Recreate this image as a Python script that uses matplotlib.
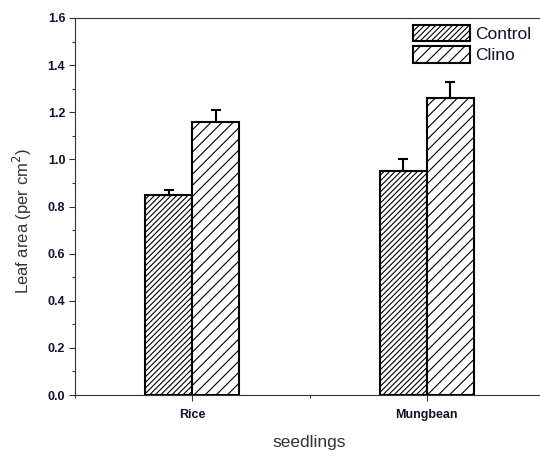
import numpy as np
import matplotlib
matplotlib.use("Agg")
import matplotlib.pyplot as plt
from matplotlib.ticker import MultipleLocator

# Data
categories = ["Rice", "Mungbean"]
control = [0.85, 0.95]
control_err = [0.02, 0.05]
clino = [1.16, 1.26]
clino_err = [0.05, 0.07]

plt.rcParams['font.family'] = ['Liberation Sans', 'DejaVu Sans']
plt.rcParams['hatch.linewidth'] = 0.8
plt.rcParams['hatch.color'] = '#555555'

fig = plt.figure(figsize=(5.4, 4.55), dpi=100)
ax = fig.add_axes([75 / 540, 1 - 395 / 455, (544 - 75) / 540, (395 - 18) / 455])

x = np.arange(1, len(categories) + 1)
w = 0.2
ax.bar(x - w / 2, control, w, yerr=[np.zeros(len(control)), control_err],
       color='white', edgecolor='black', linewidth=1.5, hatch='//////',
       capsize=3.5, error_kw=dict(elinewidth=1.5, capthick=1.5), label='Control')
ax.bar(x + w / 2, clino, w, yerr=[np.zeros(len(clino)), clino_err],
       color='white', edgecolor='black', linewidth=1.5, hatch='///',
       capsize=3.5, error_kw=dict(elinewidth=1.5, capthick=1.5), label='Clino')

ax.set_xlim(0.5, 2.5)
ax.set_ylim(0, 1.6)
ax.set_xticks(x)
ax.set_xticklabels(categories, fontsize=9, fontweight='bold')
ax.xaxis.set_minor_locator(MultipleLocator(0.5))
ax.yaxis.set_major_locator(MultipleLocator(0.2))
ax.yaxis.set_minor_locator(MultipleLocator(0.1))
ax.set_yticklabels([f"{v:.1f}" for v in ax.get_yticks()], fontsize=9, fontweight='bold')
ax.tick_params(which='major', direction='out', length=4, width=0.8, colors='#333333', labelcolor='#111133')
ax.tick_params(which='minor', direction='out', length=2.5, width=0.8, colors='#333333')
ax.tick_params(axis='x', pad=6)
ax.tick_params(axis='y', pad=3)

ax.spines['right'].set_visible(False)
for s in ['left', 'bottom', 'top']:
    ax.spines[s].set_color('#333333')
    ax.spines[s].set_linewidth(0.8)

ax.set_ylabel("Leaf area (per cm$^2$)", fontsize=12, color='#333333')
ax.yaxis.set_label_coords(-0.088, 0.46)
ax.set_xlabel("seedlings", fontsize=12.5, color='#333333', labelpad=10)

leg = ax.legend(loc='upper right', bbox_to_anchor=(0.995, 1.01), frameon=False,
                fontsize=12.5, handlelength=3.3, handleheight=1.1, handletextpad=0.3,
                labelspacing=0.25, borderaxespad=0.2)
for t in leg.get_texts():
    t.set_color('#111133')

fig.savefig("out.png", dpi=100)
